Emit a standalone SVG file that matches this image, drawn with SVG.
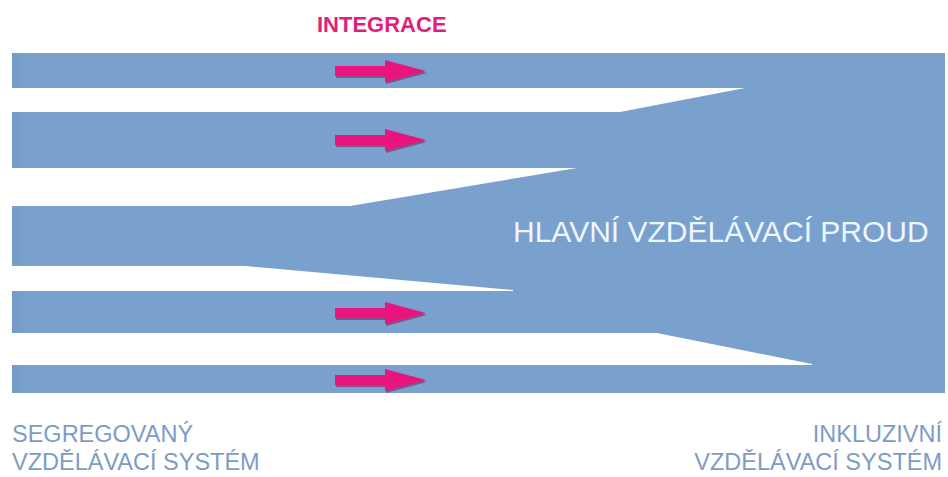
<svg xmlns="http://www.w3.org/2000/svg" width="948" height="477" viewBox="0 0 948 477">
<style>
.gap{fill:#ffffff;}
.arrow{fill:#e8167c;}
.shadow{fill:#8a1450;opacity:0.55;}
.lbl{font-family:"Liberation Sans",Arial,sans-serif;font-size:23.5px;fill:#7d9cc4;}
.main{font-family:"Liberation Sans",Arial,sans-serif;font-size:30px;fill:#eef6ff;}
.top{font-family:"Liberation Sans",Arial,sans-serif;font-size:22px;font-weight:bold;fill:#e2207c;}
</style>
<defs>
<linearGradient id="edge" gradientUnits="userSpaceOnUse" x1="12" y1="0" x2="26" y2="0">
<stop offset="0" stop-color="#739cca"/>
<stop offset="1" stop-color="#7aa1cd"/>
</linearGradient>
<polygon id="arr" points="0,-5 50,-5 50,-11 91,0 50,11 50,5 0,5"/>
</defs>
<rect width="948" height="477" fill="#ffffff"/>
<g id="stream">
<rect x="12" y="53" width="933" height="340" fill="url(#edge)"/>
<polygon class="gap" points="12,88 745,88 620,112 12,112"/>
<polygon class="gap" points="12,168 577,168 350,206 12,206"/>
<polygon class="gap" points="12,266 245,266 513,290 513,291 12,291"/>
<polygon class="gap" points="12,333 657,333 812,364 812,365 12,365"/>
</g>
<g id="connectors">
<use href="#arr" class="shadow" transform="translate(336,73)"/>
<use href="#arr" class="arrow" transform="translate(335,71)"/>
<use href="#arr" class="shadow" transform="translate(336,142)"/>
<use href="#arr" class="arrow" transform="translate(335,140)"/>
<use href="#arr" class="shadow" transform="translate(336,315)"/>
<use href="#arr" class="arrow" transform="translate(335,313)"/>
<use href="#arr" class="shadow" transform="translate(336,382)"/>
<use href="#arr" class="arrow" transform="translate(335,380)"/>
</g>
<g id="integrace"><text class="top" x="317" y="32">INTEGRACE</text></g>
<g id="mainstream"><text class="main" x="513" y="242">HLAVNÍ VZDĚLÁVACÍ PROUD</text></g>
<g id="segregated">
<text class="lbl" x="12" y="442">SEGREGOVANÝ</text>
<text class="lbl" x="12" y="470">VZDĚLÁVACÍ SYSTÉM</text>
</g>
<g id="inclusive">
<text class="lbl" x="942" y="442" text-anchor="end">INKLUZIVNÍ</text>
<text class="lbl" x="942" y="470" text-anchor="end">VZDĚLÁVACÍ SYSTÉM</text>
</g>
</svg>
